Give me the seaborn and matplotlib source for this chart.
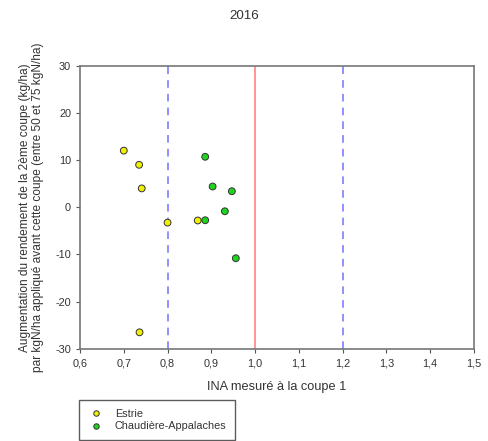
import pandas as pd
import seaborn as sns
from matplotlib import pyplot as plt

# values
estrie_ina = [0.70, 0.735, 0.741, 0.80, 0.869, 0.736]
estrie_gain = [12.0, 9.0, 4.0, -3.25, -2.8, -26.5]
chaud_ina = [0.886, 0.903, 0.947, 0.931, 0.886, 0.956]
chaud_gain = [10.7, 4.4, 3.4, -0.85, -2.75, -10.8]
regions = ["Estrie", "Chaudière-Appalaches"]
x_ticks = [0.6, 0.7, 0.8, 0.9, 1.0, 1.1, 1.2, 1.3, 1.4, 1.5]
y_ticks = [-30, -20, -10, 0, 10, 20, 30]

df = pd.DataFrame({
    "ina": estrie_ina + chaud_ina,
    "gain": estrie_gain + chaud_gain,
    "region": [regions[0]] * len(estrie_ina) + [regions[1]] * len(chaud_ina),
})

sns.set_style("ticks")
plt.rcParams["font.family"] = ["Liberation Sans", "DejaVu Sans"]
plt.rcParams["axes.unicode_minus"] = False

fig = plt.figure(figsize=(4.88, 4.41), dpi=100)
ax = fig.add_axes([0.164, 0.209, 0.807, 0.642])

ax.axvline(1.0, color="#ff8c8c", linewidth=1.3, zorder=1)
for xv in (0.8, 1.2):
    ax.axvline(xv, color="#7373ff", linewidth=1.1, linestyle=(0, (5, 4)), zorder=1)

sns.scatterplot(
    data=df,
    x="ina",
    y="gain",
    hue="region",
    palette={regions[0]: "#f0f000", regions[1]: "#1ed41e"},
    edgecolor="#333333",
    linewidth=0.7,
    s=24,
    ax=ax,
    zorder=3,
)

ax.set_xlim(0.6, 1.5)
ax.set_ylim(-30, 30)
ax.set_xticks(x_ticks)
ax.set_xticklabels([f"{v:.1f}".replace(".", ",") for v in x_ticks])
ax.set_yticks(y_ticks)
ax.tick_params(labelsize=7.8, direction="out", length=3, color="#555555", labelcolor="#333333")
ax.tick_params(axis="x", pad=4)
for sp in ax.spines.values():
    sp.set_color("#777777")
    sp.set_linewidth(1.2)

ax.set_xlabel("INA mesuré à la coupe 1", fontsize=9.2, color="#333333", labelpad=9)
ax.set_ylabel(
    "Augmentation du rendement de la 2ème coupe (kg/ha)\n"
    "par kgN/ha appliqué avant cette coupe (entre 50 et 75 kgN/ha)",
    fontsize=8.6, color="#333333", labelpad=8, linespacing=1.1,
)
fig.text(0.5, 0.963, "2016", ha="center", va="center", fontsize=9.6, color="#333333")

handles, labels = ax.get_legend_handles_labels()
ax.get_legend().remove()
lgd = fig.legend(
    handles, labels,
    loc="lower left",
    bbox_to_anchor=(0.162, 0.002),
    borderaxespad=0,
    fontsize=7.8,
    frameon=True,
    fancybox=False,
    edgecolor="#333333",
    handlelength=1.6,
    handletextpad=0.9,
    borderpad=0.8,
    labelspacing=0.25,
    markerscale=0.8,
)
lgd.get_frame().set_linewidth(1.0)
for t in lgd.get_texts():
    t.set_color("#333333")

fig.savefig("out.png", dpi=100)
